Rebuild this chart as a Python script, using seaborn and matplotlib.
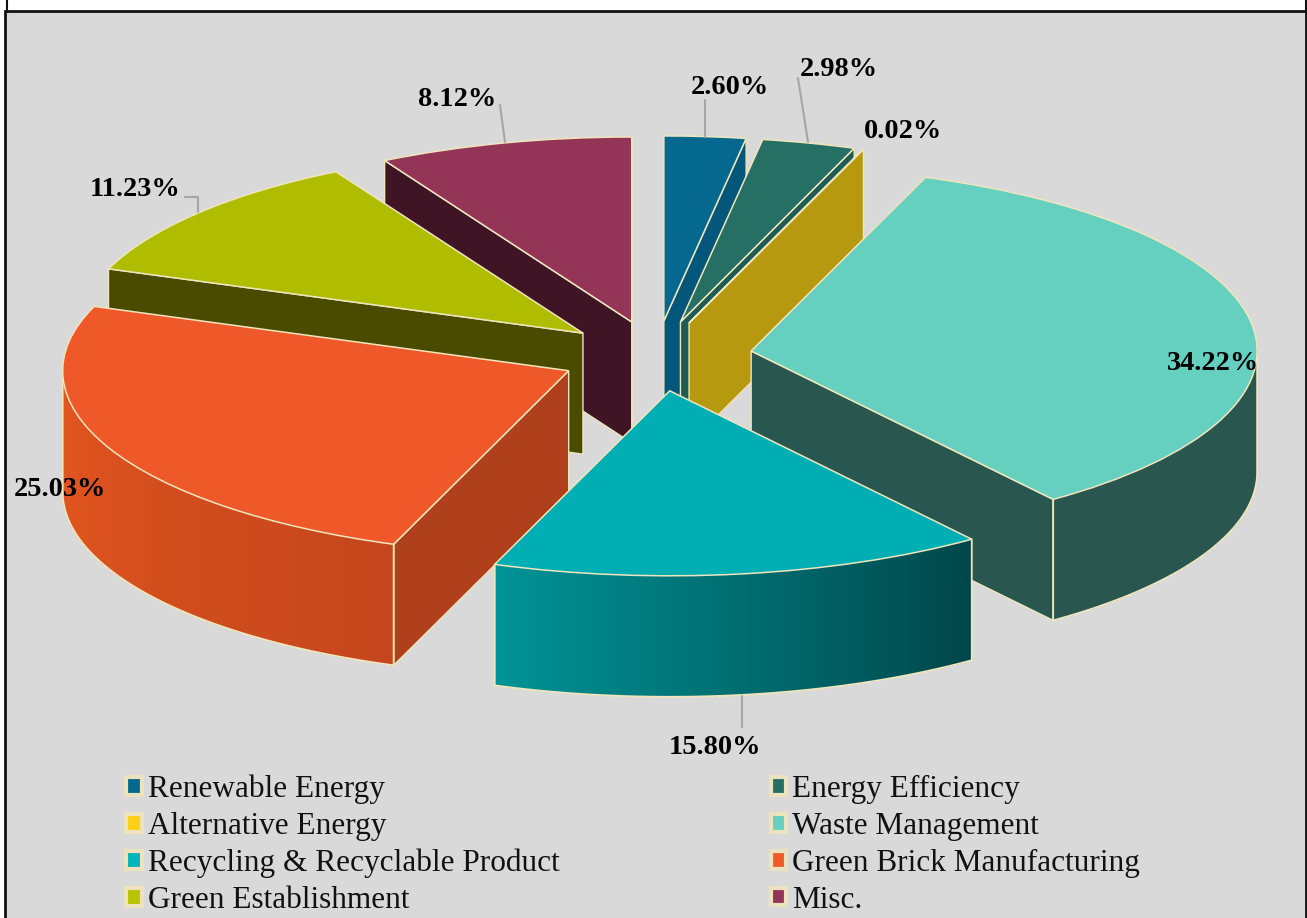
import numpy as np
import matplotlib
matplotlib.use('Agg')
import matplotlib.pyplot as plt
from matplotlib.patches import Patch, Rectangle
from matplotlib.lines import Line2D
import seaborn as sns

# Data
categories = ['Renewable Energy', 'Energy Efficiency', 'Alternative Energy', 'Waste Management',
              'Recycling & Recyclable Product', 'Green Brick Manufacturing', 'Green Establishment', 'Misc.']
shares = [2.60, 2.98, 0.02, 34.22, 15.80, 25.03, 11.23, 8.12]
share_labels = ['2.60%', '2.98%', '0.02%', '34.22%', '15.80%', '25.03%', '11.23%', '8.12%']

# Colours for the tops, cut faces, curved sides and legend
top_colors = ['#05688f', '#266f64', '#b6990f', '#66d0c0', '#00aeb3', '#ef5828', '#b0bc00', '#943558']
cut_colors = ['#04567a', '#1f5c54', '#b6990f', '#2a5650', '#00777a', '#b03f1b', '#4b4b00', '#3f1526']
side_left = ['#04567a', '#1f5c54', '#b6990f', '#2a5650', '#009396', '#e4571f', '#4b4b00', '#3f1526']
side_right = ['#04567a', '#1f5c54', '#b6990f', '#2a5650', '#00474a', '#c5461c', '#4b4b00', '#3f1526']
legend_colors = ['#05688f', '#266f64', '#ffd014', '#66d0c0', '#00b5bb', '#f05a28', '#b8c400', '#943558']
edge_color = '#efe6bd'

# back to front
draw_order = [7, 0, 1, 2, 6, 3, 5, 4]

# Layout in pixels of the 1307x918 picture
W, H = 1307, 918
cx, cy = 656, 356
rx, ry = 506, 185
depth = 121 / ry

label_pos = [(730, 87), (839, 70), (903, 132), (1213, 363), (715, 747), (60, 489), (135, 189), (457, 99)]
leaders = [
    [(705, 100), (705, 137)],
    [(798, 78), (808, 142)],
    [(500, 105), (505, 142)],
    [(185, 197), (198, 197), (198, 212)],
    [(742, 696), (742, 727)],
]


def px(x, y):
    return (x - cx) / rx, (cy - y) / ry


sns.set_theme(style='white')
plt.rcParams['font.family'] = ['Liberation Serif', 'DejaVu Serif']

fig = plt.figure(figsize=(W / 100, H / 100), dpi=100, facecolor='white')

# Grey panel with black frame
fig.add_artist(Rectangle((5 / W, -0.01), 1300.5 / W, (H - 11) / H + 0.01, transform=fig.transFigure,
                         facecolor='#d9d9d9', edgecolor='#111111', linewidth=2, zorder=-5))
for xline in [7, 1305.5]:
    fig.add_artist(Line2D([xline / W, xline / W], [1, 1 - 11 / H], transform=fig.transFigure,
                          color='#111111', linewidth=1.5, zorder=-4))

ax = fig.add_axes([0, 0, 1, 1])
ax.patch.set_alpha(0)

wedges, _ = ax.pie(shares, explode=[0.19] * len(shares), colors=top_colors, startangle=90, counterclock=False,
                   wedgeprops={'edgecolor': edge_color, 'linewidth': 1.1})
ax.set_aspect('auto')
ax.set_xlim((0 - cx) / rx, (W - cx) / rx)
ax.set_ylim((cy - H) / ry, cy / ry)
ax.axis('off')

for rank, i in enumerate(draw_order):
    w = wedges[i]
    base = 10 + rank * 5
    w.set_zorder(base + 3)
    x0, y0 = w.center
    r = w.r
    # cut faces, only those turned towards the viewer
    for theta, normal in ((w.theta1, w.theta1 - 90), (w.theta2, w.theta2 + 90)):
        if np.sin(np.radians(normal)) >= 0:
            continue
        xe = x0 + r * np.cos(np.radians(theta))
        ye = y0 + r * np.sin(np.radians(theta))
        ax.fill([x0, xe, xe, x0], [y0, ye, ye - depth, y0 - depth], facecolor=cut_colors[i],
                edgecolor=edge_color, linewidth=1.0, zorder=base)
    # curved side, only the part facing the viewer
    t1 = np.clip(w.theta1, -180, 0)
    t2 = np.clip(w.theta2, -180, 0)
    if t2 > t1:
        n = 70
        ts = np.linspace(t1, t2, n + 1)
        xs = x0 + r * np.cos(np.radians(ts))
        ys = y0 + r * np.sin(np.radians(ts))
        strip_colors = sns.blend_palette([side_left[i], side_right[i]], n)
        for k in range(n):
            ax.fill([xs[k], xs[k + 1], xs[k + 1], xs[k]],
                    [ys[k], ys[k + 1], ys[k + 1] - depth, ys[k] - depth],
                    facecolor=strip_colors[k], edgecolor='none', linewidth=0,
                    antialiased=False, zorder=base + 1)
        ax.plot(np.r_[xs[0], xs, xs[-1]], np.r_[ys[0], ys - depth, ys[-1]], color=edge_color,
                linewidth=1.3, zorder=base + 2)

# Leader lines
for pts in leaders:
    xy = np.array([px(*p) for p in pts])
    ax.plot(xy[:, 0], xy[:, 1], color='#a6a6a6', linewidth=1.5, zorder=60)

# Value labels
for text, (lx, ly) in zip(share_labels, label_pos):
    ax.text(*px(lx, ly), text, fontsize=20.4, fontweight='bold', color='black',
            ha='center', va='center', zorder=70)

# Legend is read row by row in the picture, matplotlib fills by column
handles = [Patch(facecolor=c, edgecolor='#ece2bd', linewidth=3) for c in legend_colors]
order = list(range(0, 8, 2)) + list(range(1, 8, 2))
ax.legend([handles[i] for i in order], [categories[i] for i in order], ncol=2, frameon=False,
          loc='lower left', bbox_to_anchor=(126 / W, 3 / H), borderpad=0, borderaxespad=0,
          fontsize=22.5, handlelength=0.5, handleheight=0.5, handletextpad=0.2,
          labelspacing=0.25, columnspacing=6.75, labelcolor='#111111')

plt.savefig('out.png', dpi=100)
